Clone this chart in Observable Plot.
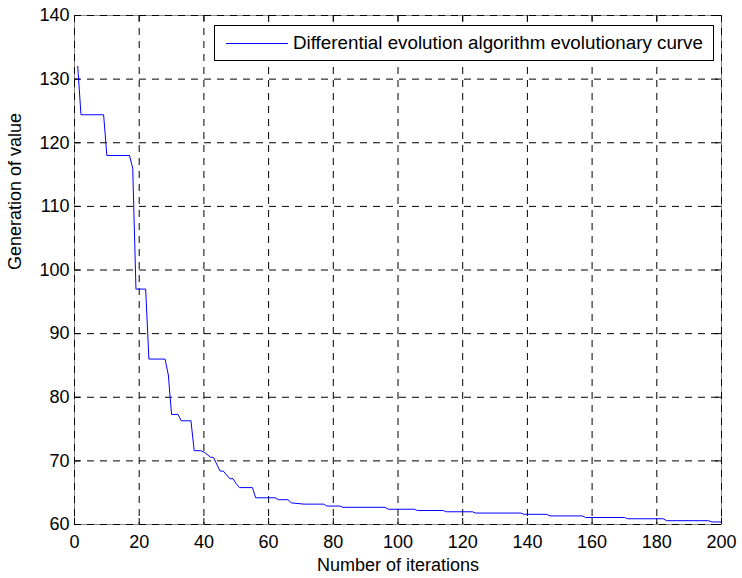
<!DOCTYPE html>
<html><head><meta charset="utf-8">
<script src="https://cdn.jsdelivr.net/npm/d3@7"></script>
<script src="https://cdn.jsdelivr.net/npm/@observablehq/plot@0.6"></script>
<style>
html,body{margin:0;padding:0;background:#fff;}
#chart{position:relative;width:742px;height:578px;font-family:"Liberation Sans",Arial,sans-serif;}
#legend{position:absolute;left:214px;top:25px;width:500px;height:36px;box-sizing:border-box;border:1.3px solid #000;background:#fff;display:flex;align-items:center;}
#legend .swatch{width:62px;height:0;border-top:1px solid #0000ff;margin-left:11px;}
#legend .lbl{margin-left:5px;font-size:18.8px;color:#000;white-space:nowrap;}
</style></head><body><div id="chart"></div>
<script>
const iterations = [1,2,9,10,17,18,19,22,23,28,29,30,32,33,36,37,39,40,42,43,45,46,48,49,50,51,55,56,62,63,66,67,71,77,78,82,83,96,97,105,106,114,115,123,124,138,139,146,147,157,158,170,171,182,183,196,197,200];
const values = [132,124.4,124.4,118,118,116,97,97,86,86,83.5,77.3,77.3,76.3,76.3,71.6,71.6,71.4,70.6,70.5,68.4,68.4,67.2,67.2,66.4,65.8,65.8,64.2,64.2,63.9,63.9,63.4,63.2,63.2,62.9,62.9,62.7,62.7,62.4,62.4,62.2,62.2,62.0,62.0,61.8,61.8,61.6,61.6,61.35,61.35,61.1,61.1,60.9,60.9,60.6,60.6,60.4,60.4];
const xTicks = [0,20,40,60,80,100,120,140,160,180,200];
const yTicks = [60,70,80,90,100,110,120,130,140];
const seriesName = "Differential evolution algorithm evolutionary curve";
const xLabel = "Number of iterations";
const yLabel = "Generation of value";

const W = 742, H = 578, mt = 15, mr = 21, mb = 54, ml = 74, TICK = 6;
const plotW = W - ml - mr, plotH = H - mt - mb;
const data = iterations.map((x, i) => ({x, y: values[i]}));
const dash = "7,6";

const chart = Plot.plot({
  width: W, height: H,
  marginTop: mt, marginRight: mr, marginBottom: mb, marginLeft: ml,
  style: {fontFamily: '"Liberation Sans", Arial, sans-serif', fontSize: "18px", color: "#000", background: "#fff"},
  x: {domain: [0, 200]},
  y: {domain: [60, 140]},
  marks: [
    Plot.frame({stroke: "#888", strokeWidth: 1}),
    Plot.ruleX(xTicks, {x: d => d, stroke: "#000", strokeWidth: 1, strokeDasharray: dash}),
    Plot.ruleY(yTicks, {y: d => d, stroke: "#000", strokeWidth: 1, strokeDasharray: dash}),
    Plot.tickX(xTicks, {x: d => d, stroke: "#000", insetTop: plotH - TICK}),
    Plot.tickX(xTicks, {x: d => d, stroke: "#000", insetBottom: plotH - TICK}),
    Plot.tickY(yTicks, {y: d => d, stroke: "#000", insetRight: plotW - TICK}),
    Plot.tickY(yTicks, {y: d => d, stroke: "#000", insetLeft: plotW - TICK}),
    Plot.axisX(xTicks, {tickSize: 0, tickPadding: 11, label: null, fontSize: 18}),
    Plot.axisY(yTicks, {tickSize: 0, tickPadding: 5, label: null, fontSize: 18}),
    Plot.text([xLabel], {frameAnchor: "bottom", dy: 41, lineAnchor: "middle", fontSize: 18, fill: "#000"}),
    Plot.text([yLabel], {frameAnchor: "left", dx: -59, rotate: -90, lineAnchor: "middle", fontSize: 18, fill: "#000"}),
    Plot.line(data, {x: "x", y: "y", stroke: "#0000ff", strokeWidth: 1})
  ]
});
const root = document.getElementById("chart");
root.appendChild(chart);
const leg = document.createElement("div");
leg.id = "legend";
leg.innerHTML = '<div class="swatch"></div><div class="lbl"></div>';
leg.querySelector(".lbl").textContent = seriesName;
root.appendChild(leg);
</script>
</body></html>
